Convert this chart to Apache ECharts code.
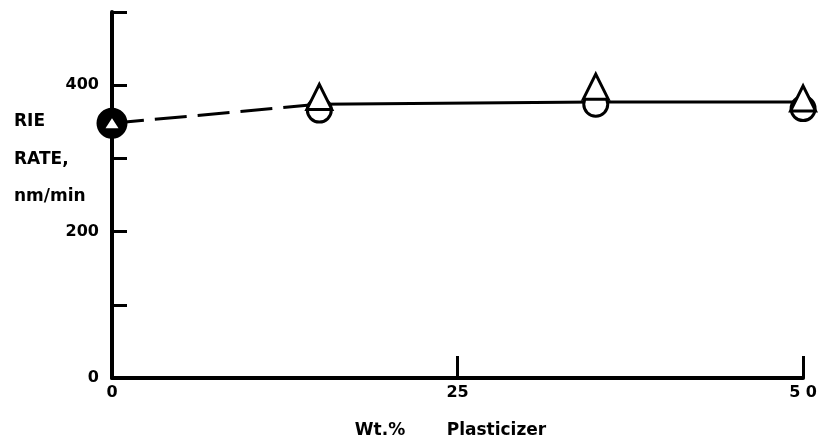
<!DOCTYPE html>
<html>
<head>
<meta charset="utf-8">
<script src="https://cdn.jsdelivr.net/npm/echarts@6/dist/echarts.min.js"></script>
<style>html,body{margin:0;padding:0;background:#fff}#c{width:820px;height:444px}</style>
</head>
<body>
<div id="c"></div>
<script>
// Data
const plasticizerPct = [0, 15, 35, 50];
const triangleRate = [348, 384, 398, 382];
const circleRate = [348, 366, 374, 368];
const dashedFitX = [0, 15];
const dashedFitY = [348, 374];
const solidFitX = [15, 35, 50];
const solidFitY = [374, 377, 377];
const xTickValues = [0, 25, 50];
const xTickLabels = ['0', '25', '5 0'];
const yLabeledValues = [0, 200, 400];
const yAxisTitle = ['RIE', 'RATE,', 'nm/min'];
const xAxisTitle = 'Wt.%       Plasticizer';

const FONT = 'DejaVu Sans';
const chart = echarts.init(document.getElementById('c'), null, {renderer: 'canvas'});

const zip = (xs, ys) => xs.map((x, i) => [x, ys[i]]);

chart.setOption({
  backgroundColor: '#fff',
  animation: false,
  grid: {left: 112, right: 12, top: 12, bottom: 63, containLabel: false},
  xAxis: {
    type: 'value', min: 0, max: 50, interval: 25,
    name: xAxisTitle, nameLocation: 'middle', nameGap: 44,
    nameTextStyle: {fontFamily: FONT, fontWeight: 'bold', fontSize: 17, color: '#000', padding: [0, 14, 0, 0]},
    axisLine: {show: true, lineStyle: {color: '#000', width: 4}},
    axisTick: {show: true, inside: true, length: 22, lineStyle: {color: '#000', width: 3}},
    axisLabel: {
      margin: 7, fontFamily: FONT, fontWeight: 'bold', fontSize: 16, color: '#000',
      formatter: v => { const i = xTickValues.indexOf(v); return i >= 0 ? xTickLabels[i] : ''; }
    },
    splitLine: {show: false}
  },
  yAxis: {
    type: 'value', min: 0, max: 500, interval: 100,
    axisLine: {show: true, lineStyle: {color: '#000', width: 4}},
    axisTick: {show: true, inside: true, length: 15, lineStyle: {color: '#000', width: 3}},
    axisLabel: {
      margin: 13, fontFamily: FONT, fontWeight: 'bold', fontSize: 16, color: '#000',
      formatter: v => yLabeledValues.includes(v) ? String(v) : ''
    },
    splitLine: {show: false}
  },
  graphic: [{
    type: 'text', left: 14, top: 103, z: 10,
    style: {
      text: yAxisTitle.join('\n'), fill: '#000',
      font: 'bold 17px "' + FONT + '"', lineHeight: 37.5
    }
  }],
  series: [
    {
      type: 'line', data: zip(dashedFitX, dashedFitY), symbol: 'none', z: 1,
      lineStyle: {color: '#000', width: 3, type: [32, 11]}
    },
    {
      type: 'line', data: zip(solidFitX, solidFitY), symbol: 'none', z: 1,
      lineStyle: {color: '#000', width: 3, type: 'solid'}
    },
    {
      type: 'scatter', symbol: 'circle', symbolSize: 24, z: 3,
      itemStyle: {color: '#fff', borderColor: '#000', borderWidth: 3, opacity: 1},
      data: plasticizerPct.map((x, i) => i === 0
        ? {value: [x, circleRate[i]], symbolSize: 28, itemStyle: {color: '#000', opacity: 1}}
        : [x, circleRate[i]])
    },
    {
      type: 'scatter', symbol: 'triangle', symbolSize: [25, 25], z: 4,
      itemStyle: {color: '#fff', borderColor: '#000', borderWidth: 3, opacity: 1},
      data: plasticizerPct.map((x, i) => i === 0
        ? {value: [x, triangleRate[i]], symbolSize: [13, 10], itemStyle: {color: '#fff', borderWidth: 0, opacity: 1}}
        : [x, triangleRate[i]])
    }
  ]
});
</script>
</body>
</html>
